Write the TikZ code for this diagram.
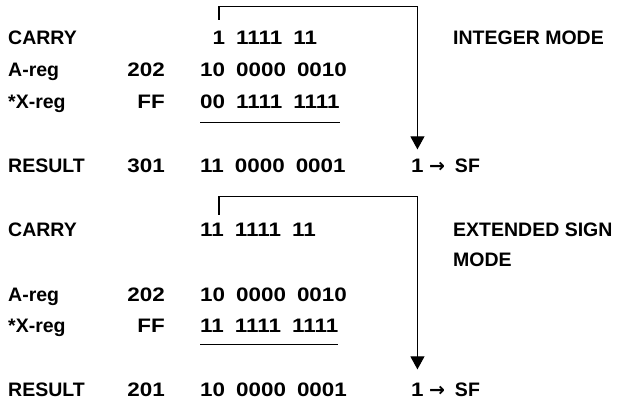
\documentclass[tikz,border=0pt]{standalone}
\usepackage{fontspec}
\setmainfont{Liberation Sans}
\newfontfamily\bitsfont[FakeStretch=1.15, BoldFeatures={FakeStretch=1.15}]{Liberation Sans}
\newfontfamily\arrowfont{DejaVu Sans}
\newcommand\bitspacing{\spaceskip 11pt\relax}
\usetikzlibrary{arrows.meta,positioning}

\begin{document}
\begin{tikzpicture}[
        x=1pt, y=1pt,
        rowname/.style={anchor=base west, inner sep=0pt, font=\fontsize{19.5}{22}\selectfont\bfseries},
        hexval/.style={anchor=base east, inner sep=0pt, font=\fontsize{19.5}{22}\selectfont\bitsfont\bfseries},
        bits/.style={anchor=base west, inner sep=0pt, font=\fontsize{19.5}{22}\selectfont\bitsfont\bfseries\bitspacing},
        carryline/.style={line width=1.1pt, -{Triangle[width=14pt,length=13pt]}},
        sumline/.style={line width=1.3pt},
    ]
    \useasboundingbox (0,0) rectangle (624,401);

    % integer mode
    \node[rowname] (carry1) at (8,356) {CARRY};
    \node[rowname] (areg1) at (8,324) {A-reg};
    \node[rowname] (xreg1) at (8,292) {*X-reg};
    \node[rowname] (result1) at (8,228) {RESULT};

    \node[hexval] (ahex1) at (165,324) {202};
    \node[hexval] (xhex1) at (165,292) {FF};
    \node[hexval] (rhex1) at (165,228) {301};

    \node[bits] (cbits1) at (200,356) {\phantom{1}1 1111 11};
    \node[bits] (abits1) at (200,324) {10 0000 0010};
    \node[bits] (xbits1) at (200,292) {00 1111 1111};
    \node[bits] (rbits1) at (200,228) {11 0000 0001};

    \node[rowname] (mode1) at (453,356) {INTEGER MODE};
    \node[bits] (one1) at (411,228) {1};
    \node[rowname, base right=5pt of one1] (sf1) {{\arrowfont\fontsize{19}{19}\selectfont →}\hspace{10pt}SF};

    \coordinate (tap1) at (219,381);
    \draw[sumline] ([yshift=-13pt]xbits1.south west) -- ([yshift=-13pt]xbits1.south east);
    \draw[carryline, shorten >=10pt] (tap1) |- ([yshift=153pt]one1.north) -- (one1.north);

    % extended sign mode
    \node[rowname] (carry2) at (8,164) {CARRY};
    \node[rowname] (areg2) at (8,99) {A-reg};
    \node[rowname] (xreg2) at (8,68) {*X-reg};
    \node[rowname] (result2) at (8,4) {RESULT};

    \node[hexval] (ahex2) at (165,99) {202};
    \node[hexval] (xhex2) at (165,68) {FF};
    \node[hexval] (rhex2) at (165,4) {201};

    \node[bits] (cbits2) at (200,164) {11 1111 11};
    \node[bits] (abits2) at (200,99) {10 0000 0010};
    \node[bits] (xbits2) at (200,68) {11 1111 1111};
    \node[bits] (rbits2) at (200,4) {10 0000 0001};

    \node[rowname] (mode2) at (453,164) {EXTENDED SIGN};
    \node[rowname] (mode2b) at (453,134) {MODE};
    \node[bits] (one2) at (411,4) {1};
    \node[rowname, base right=5pt of one2] (sf2) {{\arrowfont\fontsize{19}{19}\selectfont →}\hspace{10pt}SF};

    \coordinate (tap2) at (219,186);
    \draw[sumline] ([yshift=-11pt]xbits2.south west) -- ([yshift=-11pt]xbits2.south east);
    \draw[carryline, shorten >=14pt] (tap2) |- ([yshift=187pt]one2.north) -- (one2.north);
\end{tikzpicture}
\end{document}
